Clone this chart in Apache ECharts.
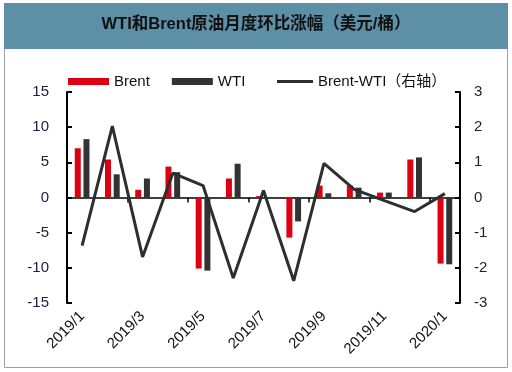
<!DOCTYPE html>
<html><head><meta charset="utf-8">
<script src="https://cdn.jsdelivr.net/npm/echarts@6/dist/echarts.min.js"></script>
<style>html,body{margin:0;padding:0;background:#fff}#c{width:512px;height:372px}</style>
</head><body><div id="c"></div>
<script>
const categories = ['2019/1','2019/2','2019/3','2019/4','2019/5','2019/6','2019/7','2019/8','2019/9','2019/10','2019/11','2019/12','2020/1'];
const brent = [7.0, 5.4, 1.1, 4.4, -10.1, 2.7, 0.2, -5.7, 1.7, 1.7, 0.7, 5.4, -9.4];
const wti = [8.3, 3.3, 2.7, 3.6, -10.4, 4.8, 0.0, -3.4, 0.6, 1.4, 0.7, 5.7, -9.5];
const spread = [-1.37, 2.03, -1.69, 0.69, 0.34, -2.29, 0.2, -2.37, 0.97, 0.23, -0.09, -0.4, 0.11];
const leftTicks = {min: -15, max: 15, interval: 5};
const rightTicks = {min: -3, max: 3, interval: 1};

const chart = echarts.init(document.getElementById('c'), null, {renderer: 'canvas'});
const font = 'Liberation Sans, Arial, sans-serif';
chart.setOption({
  animation: false,
  textStyle: {fontFamily: font},
  graphic: [
    {type: 'rect', shape: {x: 4.5, y: 3.5, width: 503, height: 364}, style: {fill: '#fff', stroke: '#a0a0a0', lineWidth: 1}, z: -10},
    {type: 'rect', shape: {x: 4, y: 3, width: 504, height: 46}, style: {fill: '#5d8fa6'}, z: -9},
    {type: 'text', left: 'center', top: 16, style: {text: 'WTI和Brent原油月度环比涨幅（美元/桶）', font: 'bold 16.5px "Liberation Sans", "Noto Sans CJK SC", sans-serif', fill: '#111'}}
  ],
  legend: [
    {data: ['Brent', 'WTI'], left: 63, top: 69, icon: 'rect', itemWidth: 41, itemHeight: 7, itemGap: 22,
     textStyle: {fontSize: 15, color: '#111', fontFamily: font}},
    {data: ['Brent-WTI（右轴）'], left: 272, top: 69, icon: 'rect', itemWidth: 36, itemHeight: 3,
     textStyle: {fontSize: 15, color: '#111', fontFamily: font + ', Noto Sans CJK SC'}}
  ],
  grid: {left: 67, right: 52, top: 92, bottom: 69},
  xAxis: [
    {type: 'category', data: categories, position: 'bottom',
     axisLine: {show: false, onZero: false}, axisTick: {show: false},
     axisLabel: {interval: 1, rotate: 45, margin: 11, fontSize: 15, color: '#111', fontFamily: font}},
    {type: 'category', data: categories, position: 'top',
     axisLine: {show: true, onZero: true, lineStyle: {color: '#000', width: 1.5}},
     axisTick: {show: true, interval: 1, inside: true, length: 5, lineStyle: {color: '#000', width: 1.5}},
     axisLabel: {show: false}}
  ],
  yAxis: [
    {type: 'value', min: leftTicks.min, max: leftTicks.max, interval: leftTicks.interval,
     splitLine: {show: false},
     axisLine: {show: true, lineStyle: {color: '#000', width: 2}},
     axisTick: {show: true, inside: true, length: 5, lineStyle: {color: '#000', width: 2}},
     axisLabel: {fontSize: 15, color: '#1a1f3a', margin: 18, fontFamily: font}},
    {type: 'value', min: rightTicks.min, max: rightTicks.max, interval: rightTicks.interval,
     splitLine: {show: false},
     axisLine: {show: true, lineStyle: {color: '#000', width: 2}},
     axisTick: {show: true, inside: true, length: 5, lineStyle: {color: '#000', width: 2}},
     axisLabel: {fontSize: 15, color: '#1a1f3a', margin: 14, fontFamily: font}}
  ],
  series: [
    {name: 'Brent', type: 'bar', data: brent, xAxisIndex: 0, yAxisIndex: 0, barWidth: 6, barGap: '45%',
     itemStyle: {color: '#dc0011'}},
    {name: 'WTI', type: 'bar', data: wti, xAxisIndex: 0, yAxisIndex: 0, barWidth: 6, barGap: '45%',
     itemStyle: {color: '#333333'}},
    {name: 'Brent-WTI（右轴）', type: 'line', data: spread, xAxisIndex: 0, yAxisIndex: 1,
     symbol: 'none', lineStyle: {color: '#2e2e2e', width: 3}, itemStyle: {color: '#2e2e2e'}, z: 5}
  ]
});
</script></body></html>
